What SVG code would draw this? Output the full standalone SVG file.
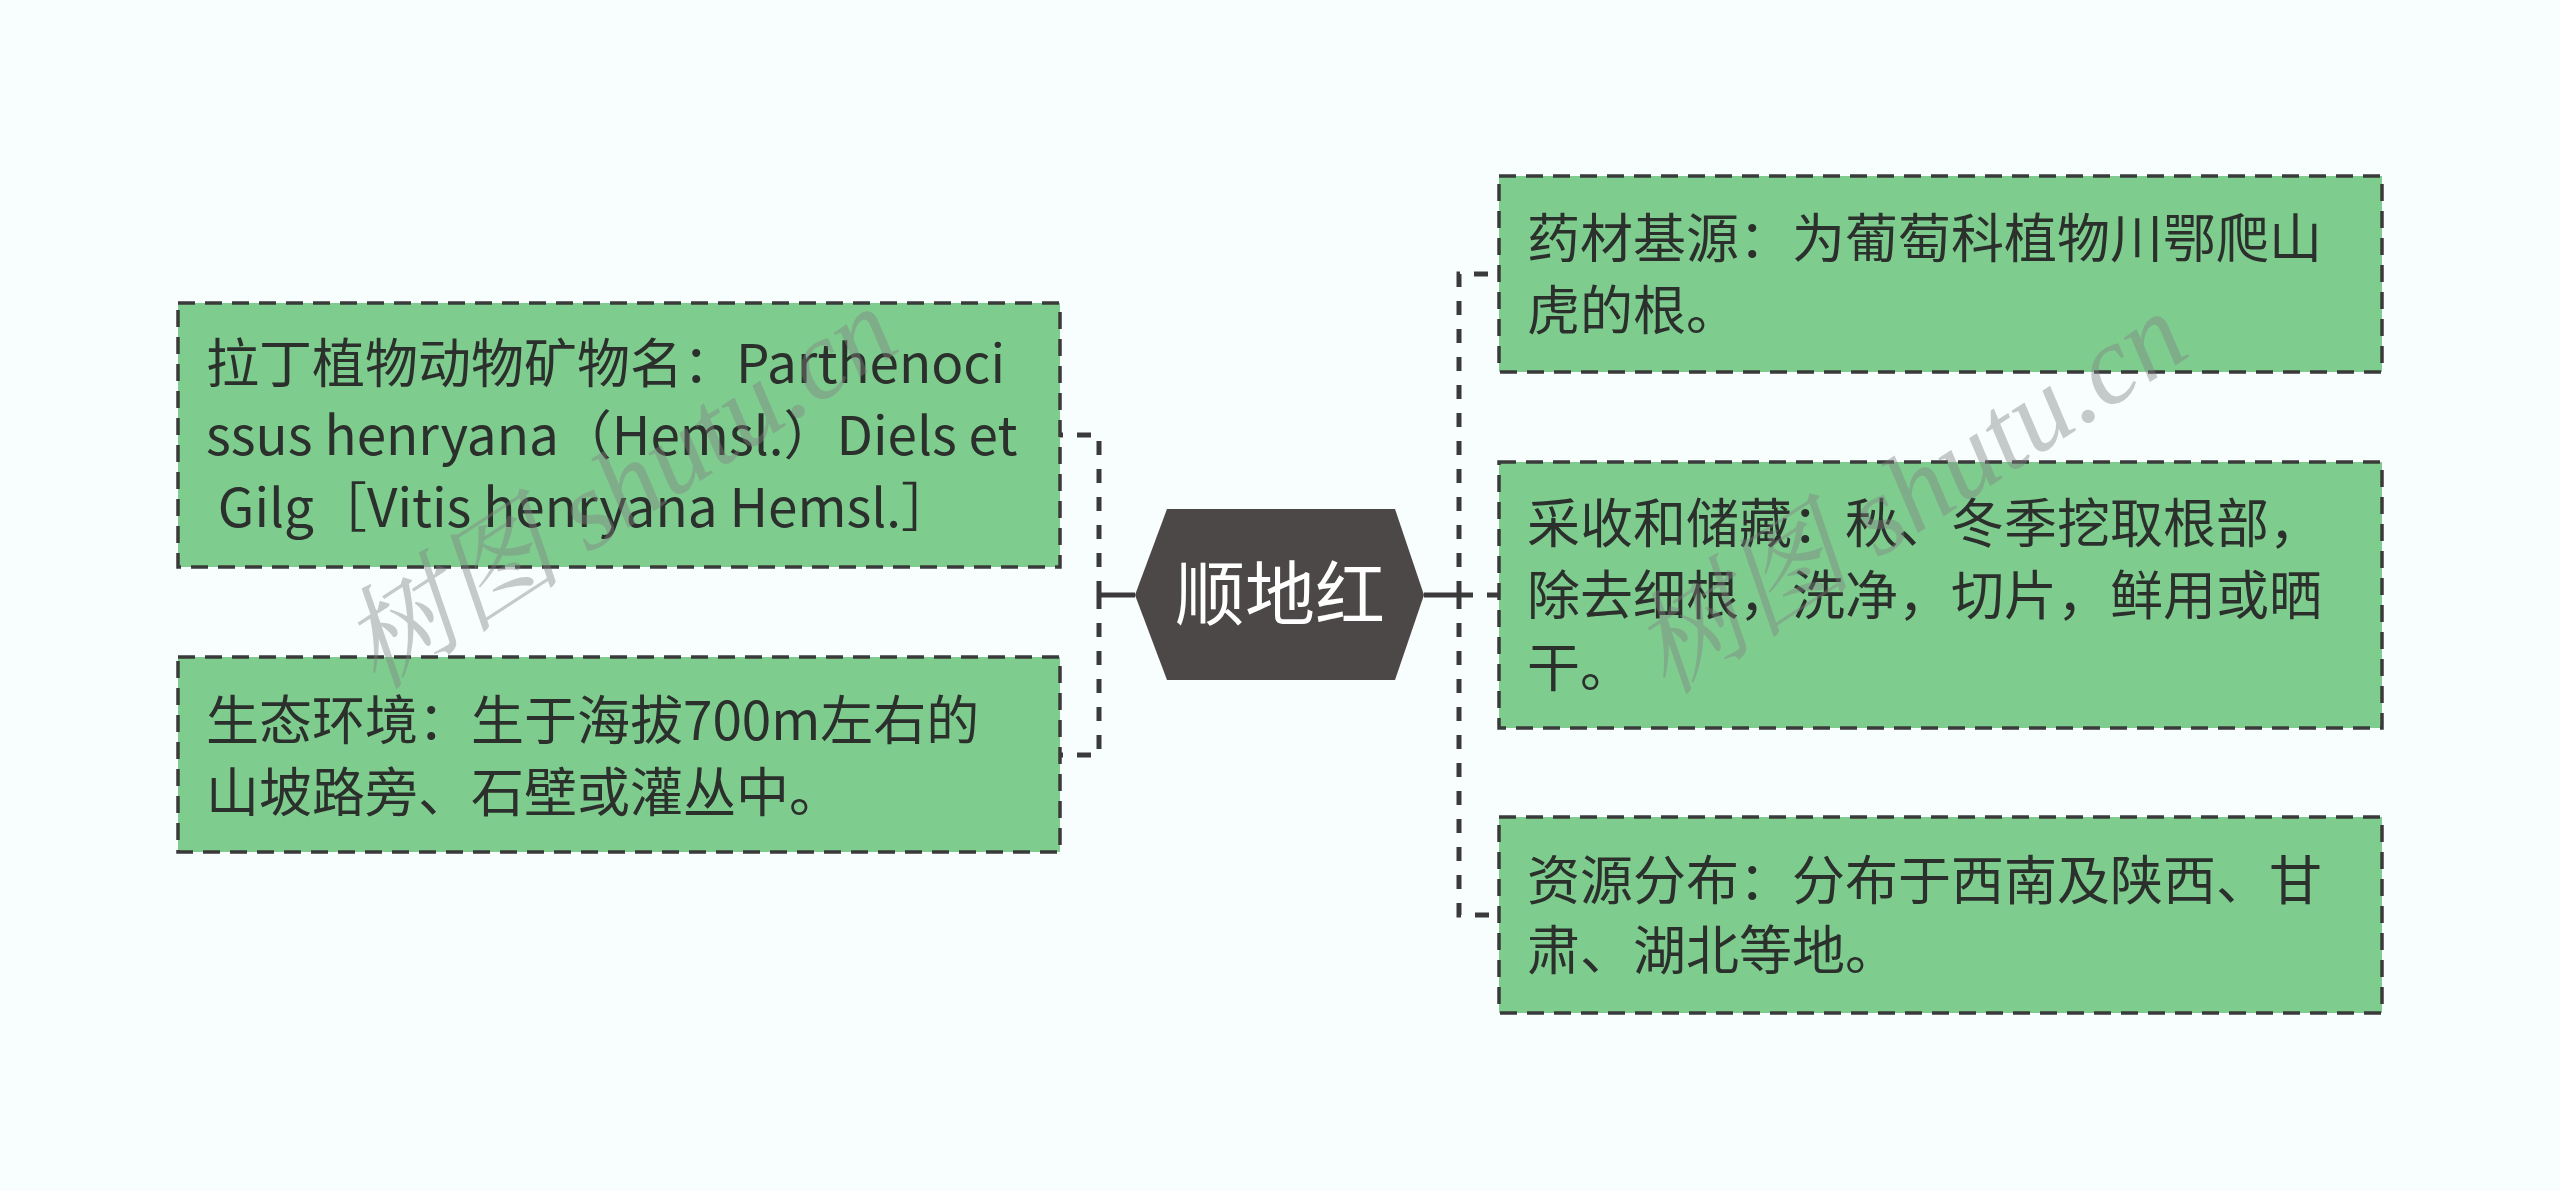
<svg xmlns="http://www.w3.org/2000/svg" width="2560" height="1191" viewBox="0 0 2560 1191">
<style>
.bg{fill:#f8fdfe}
.box{fill:#7fcc8f;stroke:#3a3a3a;stroke-width:3.5;stroke-dasharray:17 10}
.txt{font-family:"Noto Sans CJK SC","Noto Sans",sans-serif;font-size:53px;fill:#2b302c}
.hex{fill:#4d4848}
.ctxt{font-family:"Noto Sans CJK SC","Noto Sans",sans-serif;font-size:70px;fill:#ffffff}
.dash{fill:none;stroke:#3a3a3a;stroke-width:5;stroke-dasharray:14 14}
.solid{fill:none;stroke:#3a3a3a;stroke-width:5}
.wm{font-family:"Liberation Serif","Noto Serif CJK SC","Noto Sans CJK SC",serif;font-size:112px;font-style:italic;fill:#808080;fill-opacity:0.42}
</style>
<rect class="bg" x="0" y="0" width="2560" height="1191"/>
<g id="connectors">
<path class="solid" d="M1135 595 H1099"/>
<path class="dash" d="M1099 595 V435 H1060"/>
<path class="dash" d="M1099 595 V755 H1060"/>
<path class="solid" d="M1424 595 H1459"/>
<path class="dash" d="M1459 595 V274 H1499"/>
<path class="dash" d="M1459 595 H1499"/>
<path class="dash" d="M1459 595 V915 H1499"/>
</g>
<g id="center">
<polygon class="hex" points="1135,595 1167,509 1395,509 1424,595 1395,680 1167,680"/>
<text class="ctxt" x="1280" y="620" text-anchor="middle">顺地红</text>
</g>
<g id="left1">
<rect class="box" x="178" y="303" width="882" height="264"/>
<text class="txt"><tspan x="206" y="383">拉丁植物动物矿物名：Parthenoci</tspan><tspan x="206" y="455">ssus henryana（Hemsl.）Diels et</tspan><tspan x="206" y="527"> Gilg［Vitis henryana Hemsl.］</tspan></text>
</g>
<g id="left2">
<rect class="box" x="178" y="657" width="882" height="195"/>
<text class="txt"><tspan x="206" y="740">生态环境：生于海拔700m左右的</tspan><tspan x="206" y="812">山坡路旁、石壁或灌丛中。</tspan></text>
</g>
<g id="right1">
<rect class="box" x="1499" y="176" width="883" height="196"/>
<text class="txt"><tspan x="1527" y="258">药材基源：为葡萄科植物川鄂爬山</tspan><tspan x="1527" y="330">虎的根。</tspan></text>
</g>
<g id="right2">
<rect class="box" x="1499" y="462" width="883" height="266"/>
<text class="txt"><tspan x="1527" y="543">采收和储藏：秋、冬季挖取根部，</tspan><tspan x="1527" y="615">除去细根，洗净，切片，鲜用或晒</tspan><tspan x="1527" y="687">干。</tspan></text>
</g>
<g id="right3">
<rect class="box" x="1499" y="817" width="883" height="196"/>
<text class="txt"><tspan x="1527" y="900">资源分布：分布于西南及陕西、甘</tspan><tspan x="1527" y="970">肃、湖北等地。</tspan></text>
</g>
<g id="watermark">
<text class="wm" transform="translate(640 520) rotate(-33)" text-anchor="middle">树图 shutu.cn</text>
<text class="wm" transform="translate(1930 525) rotate(-33)" text-anchor="middle">树图 shutu.cn</text>
</g>
</svg>
